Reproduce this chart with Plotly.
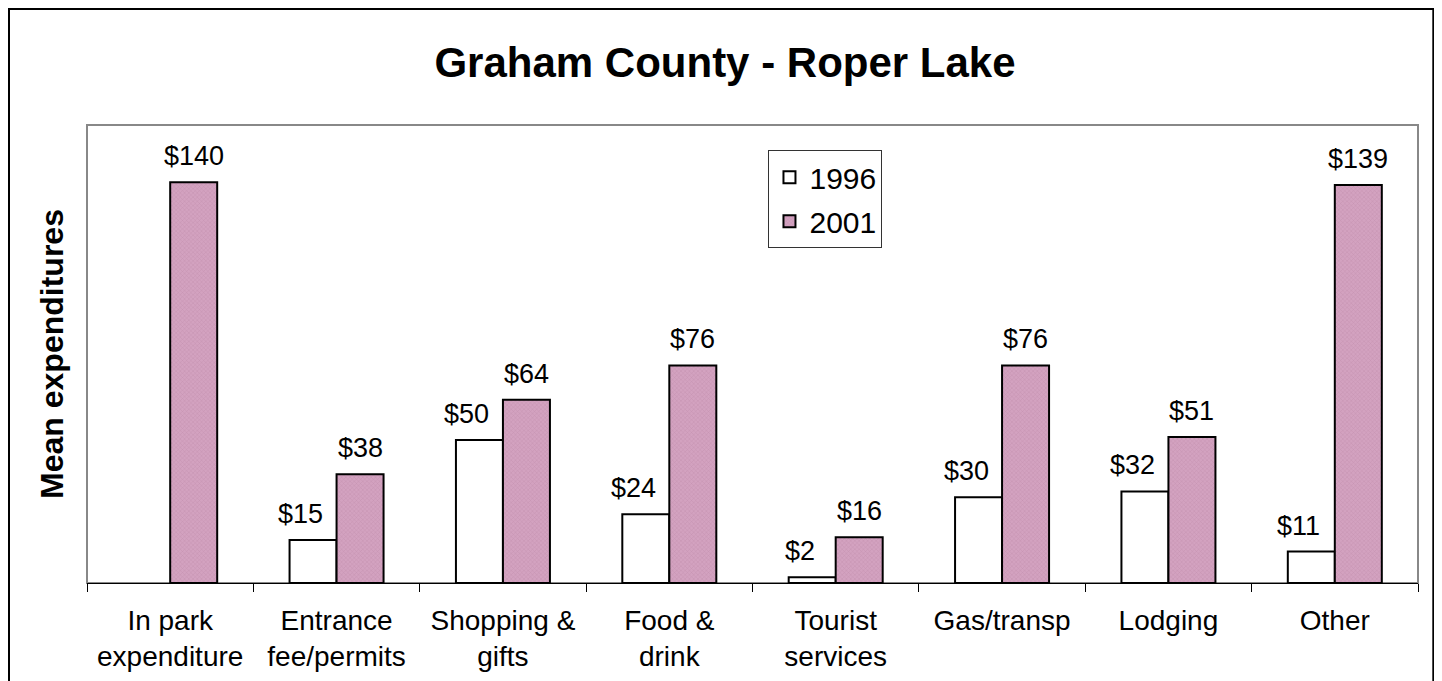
import plotly.graph_objects as go

# categories and mean expenditures ($)
categories = ['In park<br>expenditure', 'Entrance<br>fee/permits', 'Shopping &<br>gifts',
              'Food &<br>drink', 'Tourist<br>services', 'Gas/transp', 'Lodging', 'Other']
values_1996 = [None, 15, 50, 24, 2, 30, 32, 11]
values_2001 = [140, 38, 64, 76, 16, 76, 51, 139]

pink = '#d3a2c0'

fig = go.Figure()

fig.add_trace(go.Bar(
    x=categories,
    y=values_1996,
    name='1996',
    legendgroup='a',
    offsetgroup='a',
    marker=dict(color='white', line=dict(color='black', width=2)),
))
fig.add_trace(go.Bar(
    x=categories,
    y=values_2001,
    name='2001',
    legendgroup='b',
    offsetgroup='b',
    marker=dict(color=pink, line=dict(color='black', width=2),
                pattern=dict(shape='x', size=3, solidity=0.3, fgcolor='#b57f9f')),
))

# value labels above the bars (1996 labels sit a little left, like the original)
labels = []
for cat, v in zip(categories, values_1996):
    if v is not None:
        labels.append(dict(x=cat, y=v, text='$' + str(v), xshift=-36, yshift=9,
                           yanchor='bottom', showarrow=False, font=dict(size=27)))
for cat, v in zip(categories, values_2001):
    labels.append(dict(x=cat, y=v, text='$' + str(v), xshift=23.5, yshift=9,
                       yanchor='bottom', showarrow=False, font=dict(size=27)))

# the page puts the figure 8px in from the top-left corner
fig.update_layout(
    width=1434, height=673,
    margin=dict(l=79, r=24, t=117, b=98),
    plot_bgcolor='white',
    paper_bgcolor='white',
    font=dict(family='Arial, Liberation Sans, sans-serif', color='black'),
    barmode='group',
    bargap=0.435,
    bargroupgap=0,
    title=dict(text='<b>Graham County - Roper Lake</b>', x=0.5, xanchor='center',
               y=0.92, yanchor='middle', font=dict(size=42)),
    showlegend=True,
    legend=dict(
        x=0.512, y=0.945, xanchor='left', yanchor='top',
        bgcolor='white', bordercolor='#333333', borderwidth=1,
        font=dict(size=30), traceorder='grouped', tracegroupgap=2,
    ),
    xaxis=dict(
        showline=True, linecolor='black', linewidth=1,
        ticks='outside', tickson='boundaries', ticklen=8, tickcolor='black',
        tickfont=dict(size=28), ticklabelstandoff=12, automargin=False,
    ),
    yaxis=dict(
        range=[0, 160], showgrid=False, zeroline=False,
        showticklabels=False, ticks='', automargin=False,
        title=dict(text='<b>Mean expenditures</b>', font=dict(size=32), standoff=12),
    ),
    annotations=labels,
    shapes=[
        # plot area frame
        dict(type='rect', xref='paper', yref='paper', x0=0, x1=1, y0=0, y1=1,
             line=dict(color='#888888', width=2), layer='below'),
        # outer chart frame
        dict(type='rect', xref='paper', yref='paper', x0=-0.0586, x1=1.0115,
             y0=-0.25, y1=1.2533, line=dict(color='black', width=2)),
    ],
)

fig.write_html("out.html")
